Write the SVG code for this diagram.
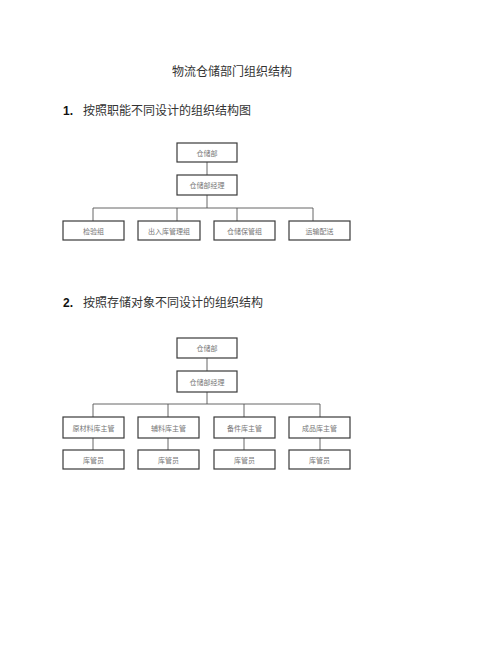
<svg xmlns="http://www.w3.org/2000/svg" width="480" height="648" viewBox="0 0 480 648">
<style>
.bg{fill:#ffffff}
.box{fill:#ffffff;stroke:#3a3a3a;stroke-width:1.2}
.lbl{font-family:"Noto Sans CJK SC","Liberation Sans",sans-serif;font-size:7px;fill:#777777;text-anchor:middle;dominant-baseline:central}
.con{stroke:#555555;stroke-width:0.9;fill:none}
.title{font-family:"Noto Sans CJK SC","Liberation Sans",sans-serif;font-size:12px;fill:#333333;text-anchor:middle}
.head{font-family:"Noto Sans CJK SC","Liberation Sans",sans-serif;font-size:12px;fill:#333333}
.num{font-family:"Liberation Sans",Arial,sans-serif;font-size:12px;font-weight:bold;fill:#111111}
</style>
<rect class="bg" x="0" y="0" width="480" height="648"/>
<text class="title" x="232" y="76">物流仓储部门组织结构</text>
<text class="num" x="63" y="115">1.</text>
<text class="head" x="83" y="115">按照职能不同设计的组织结构图</text>
<text class="num" x="63" y="307">2.</text>
<text class="head" x="83" y="307">按照存储对象不同设计的组织结构</text>

<g id="connectors">
<path class="con" d="M207 162V175M207 195V208M93 208H313M93 208V221M177 208V221M237 208V221M313 208V221"/>
<path class="con" d="M207 358V371M207 392V404M93 404H320M93 404V417M168 404V417M244 404V417M320 404V417"/>
<path class="con" d="M93 438V450M168 438V450M244 438V450M320 438V450"/>
</g>

<g id="s1-dept"><rect class="box" x="177" y="143" width="60" height="19"/><text class="lbl" x="207" y="152.5">仓储部</text></g>
<g id="s1-manager"><rect class="box" x="177" y="175" width="60" height="20"/><text class="lbl" x="207" y="185">仓储部经理</text></g>
<g id="s1-inspect"><rect class="box" x="63" y="221" width="61" height="19"/><text class="lbl" x="93.5" y="230.5">检验组</text></g>
<g id="s1-inout"><rect class="box" x="138" y="221" width="62" height="19"/><text class="lbl" x="169" y="230.5">出入库管理组</text></g>
<g id="s1-storage"><rect class="box" x="214" y="221" width="61" height="19"/><text class="lbl" x="244.5" y="230.5">仓储保管组</text></g>
<g id="s1-transport"><rect class="box" x="289" y="221" width="61" height="19"/><text class="lbl" x="319.5" y="230.5">运输配送</text></g>

<g id="s2-dept"><rect class="box" x="177" y="338" width="60" height="20"/><text class="lbl" x="207" y="348">仓储部</text></g>
<g id="s2-manager"><rect class="box" x="177" y="371" width="60" height="21"/><text class="lbl" x="207" y="381.5">仓储部经理</text></g>
<g id="s2-raw"><rect class="box" x="63" y="417" width="61" height="21"/><text class="lbl" x="93.5" y="427.5">原材料库主管</text></g>
<g id="s2-aux"><rect class="box" x="138" y="417" width="61" height="21"/><text class="lbl" x="168.5" y="427.5">辅料库主管</text></g>
<g id="s2-parts"><rect class="box" x="214" y="417" width="61" height="21"/><text class="lbl" x="244.5" y="427.5">备件库主管</text></g>
<g id="s2-finished"><rect class="box" x="289" y="417" width="61" height="21"/><text class="lbl" x="319.5" y="427.5">成品库主管</text></g>
<g id="s2-keeper1"><rect class="box" x="63" y="450" width="61" height="19"/><text class="lbl" x="93.5" y="459.5">库管员</text></g>
<g id="s2-keeper2"><rect class="box" x="138" y="450" width="61" height="19"/><text class="lbl" x="168.5" y="459.5">库管员</text></g>
<g id="s2-keeper3"><rect class="box" x="214" y="450" width="61" height="19"/><text class="lbl" x="244.5" y="459.5">库管员</text></g>
<g id="s2-keeper4"><rect class="box" x="289" y="450" width="61" height="19"/><text class="lbl" x="319.5" y="459.5">库管员</text></g>
</svg>
